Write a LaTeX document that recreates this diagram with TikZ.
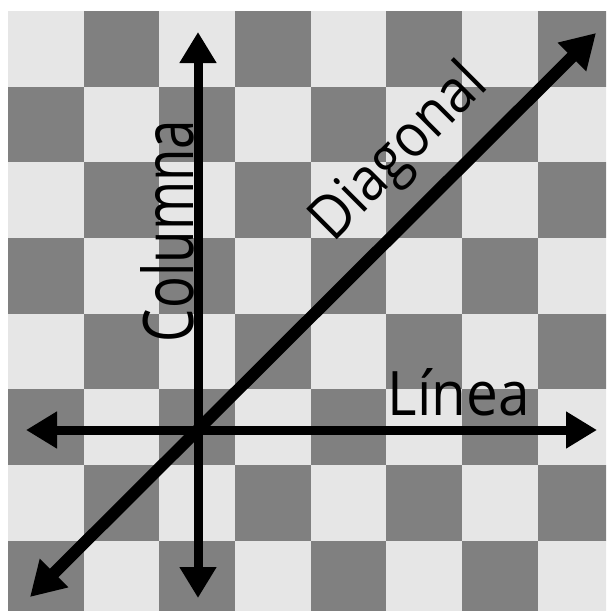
\documentclass[tikz,border=0pt]{standalone}
\usepackage{fontspec}
\setmainfont{Open Sans}
\definecolor{bLight}{HTML}{E6E6E6}
\definecolor{bDark}{HTML}{808080}
\usetikzlibrary{arrows.meta}
\tikzset{
  axisarrow/.style={line width=9pt, {Triangle[length=31pt,width=35pt]}-{Triangle[length=31pt,width=35pt]}},
  diagarrow/.style={line width=12pt, {Triangle[length=34pt,width=38pt]}-{Triangle[length=34pt,width=38pt]}},
  axislabel/.style={inner sep=0pt, anchor=base, text=black}
}
\newcommand{\bcell}[2]{%
\pgfmathtruncatemacro{\bpar}{mod(#1+#2,2)}%
\ifnum\bpar=0
 \fill[bLight] (8+#1*75.65,11+#2*75.65) rectangle ++(75.65,75.65);%
\else
 \fill[bDark] (8+#1*75.65,11+#2*75.65) rectangle ++(75.65,75.65);%
\fi}
\begin{document}
\begin{tikzpicture}[x=1pt,y=-1pt]
\fill[white] (0,0) rectangle (606,611);
\useasboundingbox (0,0) rectangle (606,611);
\begin{scope}
\clip (0,0) rectangle (606,611);
\foreach \i in {0,...,7}{
  \foreach \j in {0,...,7}{
    \bcell{\i}{\j}
  }
}
\end{scope}
\coordinate (top) at (198,32);
\coordinate (bot) at (198,598);
\coordinate (lft) at (26,430);
\coordinate (rgt) at (597,430);
\coordinate (sw) at (30,597);
\coordinate (ne) at (596,33);
\draw[axisarrow] (bot) -- (top);
\draw[axisarrow] (lft) -- (rgt);
\draw[diagarrow] (sw) -- (ne);
\node[axislabel, rotate=90] (colLabel) at (193,231) {\resizebox{222pt}{53pt}{Columna}};
\node[axislabel] (linLabel) at (459,415) {\resizebox{142pt}{47pt}{Línea}};
\node[axislabel, rotate=45] (diaLabel) at (411.5,165) {\resizebox{221pt}{46pt}{Diagonal}};
\end{tikzpicture}
\end{document}
